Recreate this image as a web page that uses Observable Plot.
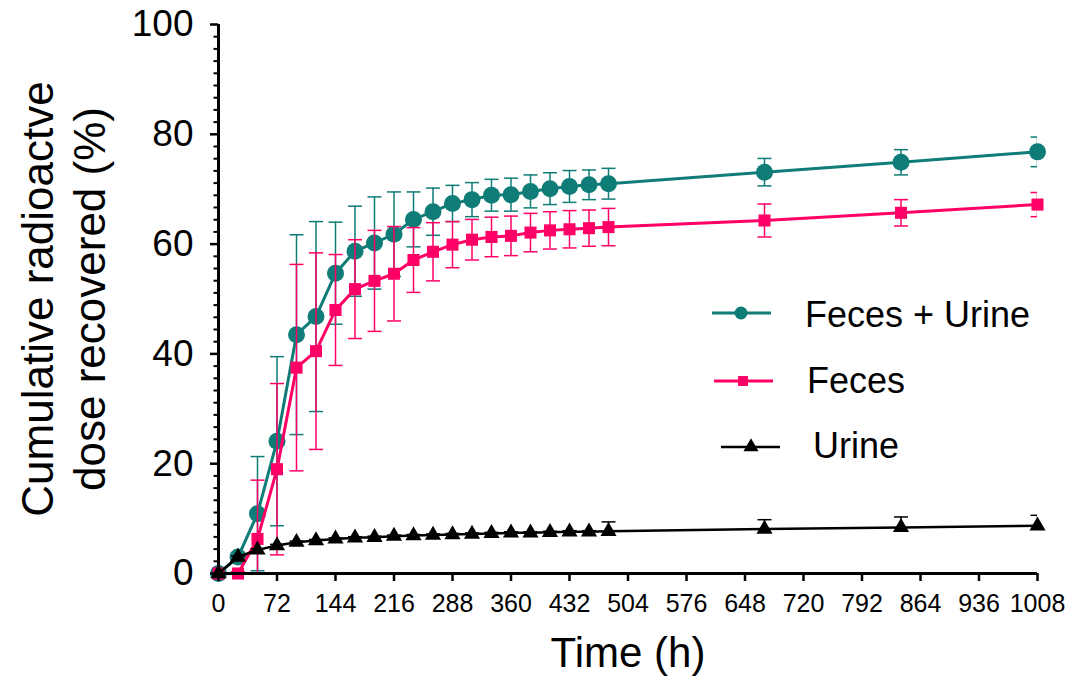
<!DOCTYPE html>
<html><head><meta charset="utf-8">
<script src="https://cdn.jsdelivr.net/npm/d3@7"></script>
<script src="https://cdn.jsdelivr.net/npm/@observablehq/plot@0.6"></script>
<style>
html,body{margin:0;padding:0;background:#fff;}
#chart{position:relative;width:1073px;height:685px;overflow:hidden;}
#chart svg{display:block;}
#legend{position:absolute;left:0;top:0;pointer-events:none;}
</style></head><body><div id="chart"></div>
<script>
// ---- data ----
const times = [0,24,48,72,96,120,144,168,192,216,240,264,288,312,336,360,384,408,432,456,480,672,840,1008];
const fecesUrine   = [0,3.0,10.9,24.1,43.5,46.8,54.7,58.7,60.2,61.8,64.5,65.9,67.4,68.1,68.9,69.0,69.6,70.1,70.5,70.8,71.0,73.1,74.9,76.8];
const fecesUrineSD = [0,0.8,10.4,15.4,18.2,17.3,9.3,8.2,8.4,7.7,5.0,4.3,3.3,3.1,2.9,3.0,3.0,2.9,2.9,2.7,2.8,2.5,2.3,2.7];
const feces   = [0,0,6.3,19.0,37.5,40.5,48.0,51.8,53.3,54.6,57.1,58.6,59.9,60.8,61.3,61.5,62.1,62.5,62.7,62.9,63.1,64.3,65.7,67.2];
const fecesSD = [0,0.3,10.7,15.6,18.8,17.9,10.1,9.0,9.2,8.6,5.9,5.3,4.2,3.7,3.6,3.6,3.5,3.4,3.4,3.3,3.4,3.0,2.4,2.2];
const urine   = [0,3.0,4.3,5.1,5.7,6.0,6.3,6.5,6.6,6.8,6.9,7.0,7.1,7.2,7.3,7.4,7.4,7.5,7.6,7.6,7.7,8.1,8.4,8.7];
const urineSD = [0,0.2,0.2,0.2,0.2,0.2,0.2,0.2,0.2,0.2,0.2,0.2,0.2,0.2,0.2,0.2,0.2,0.2,0.2,0.2,1.7,1.7,1.9,1.9];

const seriesNames  = ["Feces + Urine", "Feces", "Urine"];
const seriesColors = ["#0f7c78", "#ff0066", "#000000"];
const xTickValues = [0,72,144,216,288,360,432,504,576,648,720,792,864,936,1008];
const yTickValues = [0,20,40,60,80,100];
const xLabel = "Time (h)";
const yLabel = "Cumulative radioactve\ndose recovered (%)";

// ---- styles ----
const FONT = "'Liberation Sans', Arial, Helvetica, sans-serif";
const seriesStyle = [
  {values: fecesUrine, sd: fecesUrineSD, symbol: "circle",   r: 8.5, lineWidth: 3,   both: true},
  {values: feces,      sd: fecesSD,      symbol: "square",   r: 6.8, lineWidth: 3,   both: true},
  {values: urine,      sd: urineSD,      symbol: "triangle", r: 6.0, lineWidth: 2.5, both: false}
];

const capSymbol = {draw(ctx) { ctx.moveTo(-7, 0); ctx.lineTo(7, 0); }};
const minorTickSymbol = {draw(ctx) { ctx.moveTo(-5, 0); ctx.lineTo(0, 0); }};

const minorStep = 20 / 9;
const yMinor = d3.range(0, 100.001, minorStep).filter(v => Math.abs(v / 20 - Math.round(v / 20)) > 1e-6);

const marks = [];
seriesNames.forEach((name, si) => {
  const st = seriesStyle[si];
  const color = seriesColors[si];
  const data = times.map((t, i) => ({series: name, t, v: st.values[i], sd: st.sd[i]}));
  const withErr = data.filter(d => d.sd > 0);
  marks.push(
    Plot.ruleX(withErr, {x: "t", y1: d => st.both ? d.v - d.sd : d.v, y2: d => d.v + d.sd,
      stroke: color, strokeWidth: 1.5, clip: true}),
    Plot.dot(withErr, {x: "t", y: d => d.v + d.sd, symbol: capSymbol, r: 7, stroke: color,
      fill: "none", strokeWidth: 1.5, clip: true}),
    ...(st.both ? [Plot.dot(withErr, {x: "t", y: d => d.v - d.sd, symbol: capSymbol, r: 7, stroke: color,
      fill: "none", strokeWidth: 1.5, clip: true})] : []),
    Plot.line(data, {x: "t", y: "v", stroke: color, strokeWidth: st.lineWidth}),
    Plot.dot(data, {x: "t", y: "v", symbol: st.symbol, r: st.r, fill: color, stroke: "none"})
  );
});

const plot = Plot.plot({
  width: 1073,
  height: 685,
  marginLeft: 218,
  marginRight: 36,
  marginTop: 24,
  marginBottom: 112,
  style: {fontFamily: FONT, color: "#000", background: "#fff", overflow: "visible"},
  x: {domain: [0, 1008]},
  y: {domain: [0, 100]},
  marks: [
    ...marks,
    Plot.ruleX([0], {stroke: "#000", strokeWidth: 3}),
    Plot.ruleY([0], {stroke: "#000", strokeWidth: 3}),
    Plot.dot(yMinor, {x: () => 0, y: d => d, symbol: minorTickSymbol, r: 5, stroke: "#000", strokeWidth: 2, fill: "none"}),
    Plot.axisX({ticks: xTickValues, tickFormat: d => String(d), tickSize: 8, tickPadding: 13,
      fontSize: 25, strokeWidth: 2.5, label: null}),
    Plot.axisY({ticks: yTickValues, tickFormat: d => String(d), tickSize: 8, tickPadding: 17,
      fontSize: 37, strokeWidth: 2.5, label: null}),
    Plot.text([xLabel], {text: d => d, frameAnchor: "bottom", lineAnchor: "middle", textAnchor: "middle",
      dy: 80, fontSize: 42, fill: "#000"}),
    Plot.text([yLabel], {text: d => d, frameAnchor: "left", textAnchor: "middle", lineAnchor: "middle",
      dx: -156, rotate: -90, fontSize: 44, lineHeight: 1.18, fill: "#000"})
  ]
});

const chart = document.getElementById("chart");
chart.appendChild(plot);

// ---- legend overlay ----
const legendLayout = [
  {y: 313, x1: 712, x2: 771, mx: 741, tx: 805, by: 14, r: 6.5},
  {y: 381, x1: 714, x2: 773, mx: 743, tx: 807, by: 12, r: 5.6},
  {y: 447, x1: 721, x2: 780, mx: 751, tx: 813, by: 11, r: 5.6}
];
const ns = "http://www.w3.org/2000/svg";
const leg = d3.select(chart).append("svg").attr("id", "legend")
  .attr("width", 1073).attr("height", 685).attr("xmlns", ns);
seriesNames.forEach((name, i) => {
  const L = legendLayout[i];
  const st = seriesStyle[i];
  const g = leg.append("g");
  g.append("line").attr("x1", L.x1).attr("x2", L.x2).attr("y1", L.y).attr("y2", L.y)
    .attr("stroke", seriesColors[i]).attr("stroke-width", st.lineWidth);
  const sym = {circle: d3.symbolCircle, square: d3.symbolSquare, triangle: d3.symbolTriangle}[st.symbol];
  g.append("path").attr("d", d3.symbol(sym, Math.PI * L.r * L.r)())
    .attr("transform", `translate(${L.mx},${L.y})`).attr("fill", seriesColors[i]);
  g.append("text").attr("x", L.tx).attr("y", L.y + L.by).attr("font-family", FONT)
    .attr("font-size", 36).attr("fill", "#000").text(name);
});
</script></body></html>
